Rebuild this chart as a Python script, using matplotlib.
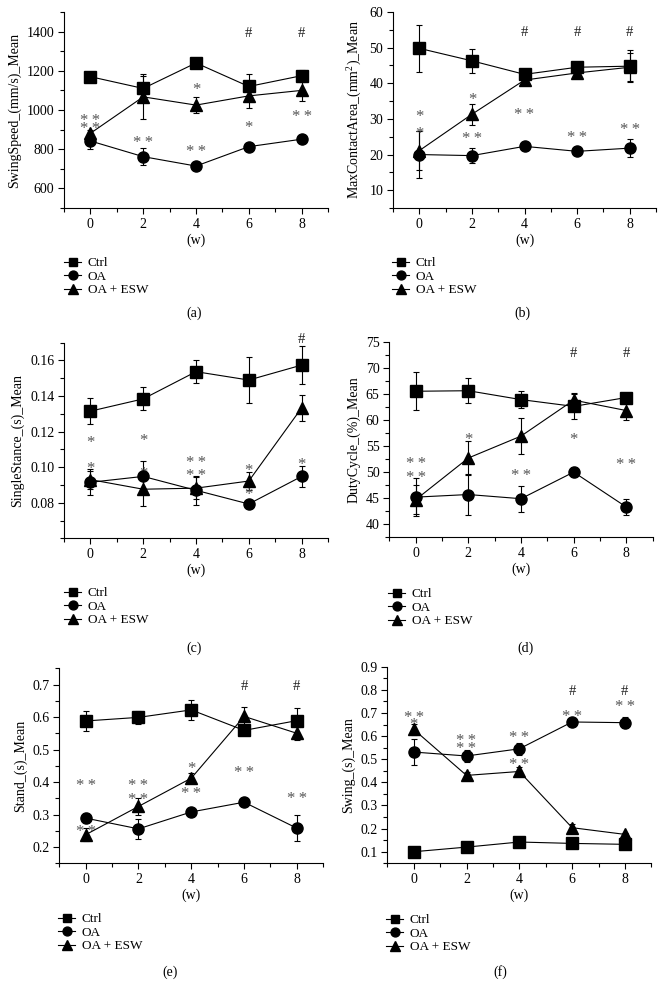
import matplotlib
matplotlib.use("Agg")
import matplotlib.pyplot as plt
from matplotlib.ticker import MultipleLocator
from matplotlib.lines import Line2D
from matplotlib.font_manager import FontProperties

plt.rcParams['font.family'] = ['Liberation Serif', 'DejaVu Serif']
plt.rcParams['font.size'] = 9
plt.rcParams['mathtext.fontset'] = 'custom'
plt.rcParams['mathtext.rm'] = 'Liberation Serif'
plt.rcParams['mathtext.it'] = 'Liberation Serif:italic'

weeks = [0, 2, 4, 6, 8]
groups = ["Ctrl", "OA", "OA + ESW"]

# (a) SwingSpeed
a_ctrl = [1170, 1110, 1240, 1120, 1175]
a_ctrl_err = [15, 65, 10, 64, 30]
a_oa = [842, 762, 714, 813, 851]
a_oa_err = [40, 45, 10, 10, 10]
a_esw = [881, 1067, 1025, 1072, 1100]
a_esw_err = [15, 115, 40, 60, 55]
a_notes = [(0, 965, "**"), (0, 927, "**"), (2, 854, "**"), (4, 1124, "*"), (4, 808, "**"),
           (6, 1400, "#"), (6, 931, "*"), (8, 1400, "#"), (8, 984, "**")]

# (b) MaxContactArea
b_ctrl = [49.8, 46.3, 42.5, 44.5, 44.8]
b_ctrl_err = [6.5, 3.4, 0.8, 0.6, 4.5]
b_oa = [20.0, 19.7, 22.3, 20.9, 21.8]
b_oa_err = [6.7, 2.1, 0.6, 0.6, 2.6]
b_esw = [21.1, 31.3, 40.9, 42.9, 44.5]
b_esw_err = [5.5, 3.0, 1.0, 0.6, 4.0]
b_notes = [(0, 31.7, "*"), (0, 27.0, "*"), (2, 36.6, "*"), (2, 25.5, "**"), (4, 54.7, "#"),
           (4, 32.4, "**"), (6, 54.7, "#"), (6, 25.8, "**"), (8, 54.7, "#"), (8, 28.2, "**")]

# (c) SingleStance
c_ctrl = [0.1315, 0.1384, 0.1537, 0.1490, 0.1574]
c_ctrl_err = [0.0075, 0.0065, 0.0065, 0.013, 0.0106]
c_oa = [0.0915, 0.0948, 0.0870, 0.0793, 0.0948]
c_oa_err = [0.0072, 0.0088, 0.008, 0.001, 0.006]
c_esw = [0.0930, 0.0876, 0.0882, 0.0922, 0.1333]
c_esw_err = [0.005, 0.0092, 0.006, 0.005, 0.0075]
c_notes = [(0, 0.116, "*"), (0, 0.1016, "*"), (2, 0.1173, "*"), (2, 0.0986, "*"),
           (4, 0.1048, "**"), (4, 0.0973, "**"), (6, 0.1001, "*"), (6, 0.087, "*"),
           (8, 0.1725, "#"), (8, 0.1038, "*")]

# (d) DutyCycle
d_ctrl = [65.5, 65.6, 63.9, 62.6, 64.3]
d_ctrl_err = [3.6, 2.4, 1.7, 2.4, 0.6]
d_oa = [45.2, 45.7, 44.9, 50.0, 43.3]
d_oa_err = [3.7, 4.0, 2.5, 1.0, 1.6]
d_esw = [44.7, 52.7, 56.9, 63.8, 61.8]
d_esw_err = [2.8, 3.3, 3.4, 1.3, 1.8]
d_notes = [(0, 52.4, "**"), (0, 49.7, "**"), (2, 57.0, "*"), (4, 50.0, "**"),
           (6, 73.1, "#"), (6, 57.0, "*"), (8, 73.1, "#"), (8, 52.1, "**")]

# (e) Stand
e_ctrl = [0.588, 0.599, 0.622, 0.559, 0.589]
e_ctrl_err = [0.03, 0.02, 0.03, 0.01, 0.04]
e_oa = [0.289, 0.256, 0.308, 0.338, 0.258]
e_oa_err = [0.015, 0.03, 0.008, 0.008, 0.04]
e_esw = [0.238, 0.325, 0.412, 0.602, 0.550]
e_esw_err = [0.02, 0.026, 0.015, 0.028, 0.02]
e_notes = [(0, 0.400, "**"), (0, 0.261, "**"), (2, 0.400, "**"), (2, 0.359, "**"),
           (4, 0.455, "*"), (4, 0.376, "**"), (6, 0.70, "#"), (6, 0.440, "**"),
           (8, 0.70, "#"), (8, 0.361, "**")]

# (f) Swing
f_ctrl = [0.100, 0.120, 0.142, 0.136, 0.132]
f_ctrl_err = [0.005, 0.008, 0.008, 0.015, 0.012]
f_oa = [0.531, 0.514, 0.545, 0.661, 0.658]
f_oa_err = [0.058, 0.025, 0.027, 0.012, 0.025]
f_esw = [0.629, 0.430, 0.447, 0.204, 0.175]
f_esw_err = [0.025, 0.015, 0.02, 0.015, 0.008]
f_notes = [(0, 0.698, "**"), (0, 0.665, "*"), (2, 0.597, "**"), (2, 0.564, "**"),
           (4, 0.610, "**"), (4, 0.495, "**"), (6, 0.80, "#"), (6, 0.70, "**"),
           (8, 0.80, "#"), (8, 0.744, "**")]

W, H = 664, 999
fig = plt.figure(figsize=(W / 100, H / 100), dpi=100)
renderer = fig.canvas.get_renderer()


def box(l, r, t, b):
    return [l / W, 1 - b / H, (r - l) / W, (b - t) / H]


panels = [
    dict(rect=box(64, 328, 12, 208), data=(a_ctrl, a_ctrl_err, a_oa, a_oa_err, a_esw, a_esw_err),
         notes=a_notes, ylim=(500, 1500), major=200, minor=100, ylabel="SwingSpeed_(mm/s)_Mean",
         fmt=lambda v: f"{v:.0f}", leg=(64, 257), tag=(194, 313), tag_s="(a)"),
    dict(rect=box(393, 656, 12, 208), data=(b_ctrl, b_ctrl_err, b_oa, b_oa_err, b_esw, b_esw_err),
         notes=b_notes, ylim=(5, 60), major=10, minor=5, ylabel="MaxContactArea_(mm$^2$)_Mean",
         fmt=lambda v: f"{v:.0f}", leg=(392, 257), tag=(522, 313), tag_s="(b)"),
    dict(rect=box(64, 328, 342.7, 538.3), data=(c_ctrl, c_ctrl_err, c_oa, c_oa_err, c_esw, c_esw_err),
         notes=c_notes, ylim=(0.06, 0.17), major=0.02, minor=0.01, ylabel="SingleStance_(s)_Mean",
         fmt=lambda v: f"{v:.2f}", leg=(64, 587), tag=(194, 648), tag_s="(c)"),
    dict(rect=box(389.3, 652.7, 341.7, 537.3), data=(d_ctrl, d_ctrl_err, d_oa, d_oa_err, d_esw, d_esw_err),
         notes=d_notes, ylim=(37.5, 75), major=5, minor=2.5, ylabel="DutyCycle_(%)_Mean",
         fmt=lambda v: f"{v:.0f}", leg=(388, 588), tag=(526, 648), tag_s="(d)"),
    dict(rect=box(59.3, 323.3, 668.3, 863.3), data=(e_ctrl, e_ctrl_err, e_oa, e_oa_err, e_esw, e_esw_err),
         notes=e_notes, ylim=(0.15, 0.75), major=0.1, minor=0.05, ylabel="Stand_(s)_Mean",
         fmt=lambda v: f"{v:.1f}", leg=(58, 913), tag=(170, 972), tag_s="(e)"),
    dict(rect=box(387.3, 651.3, 666.7, 863.3), data=(f_ctrl, f_ctrl_err, f_oa, f_oa_err, f_esw, f_esw_err),
         notes=f_notes, ylim=(0.05, 0.9), major=0.1, minor=0.05, ylabel="Swing_(s)_Mean",
         fmt=lambda v: f"{v:.1f}", leg=(386, 914), tag=(500, 972), tag_s="(f)"),
]

markers = ["s", "o", "^"]
STAR_FS = 12
HASH_FS = 10.5


def place_notes(ax, notes):
    by_x = {}
    for x, y, s in notes:
        by_x.setdefault(x, []).append((y, s))
    for x, items in by_x.items():
        items.sort(key=lambda t: -t[0])
        grps = []
        for y, s in items:
            py = ax.transData.transform((x, y))[1]
            if grps and s != "#" and grps[-1][-1][1] != "#" and grps[-1][-1][0] - py < 16:
                grps[-1].append((py, s))
            else:
                grps.append([(py, s)])
        for g in grps:
            is_hash = g[0][1] == "#"
            fs = HASH_FS if is_hash else STAR_FS
            fp = FontProperties(family=['Liberation Serif'], size=fs)
            _, h, d = renderer.get_text_width_height_descent("lp", fp, ismath=False)
            fs_px = fs * 100 / 72
            sc = (0.34 if is_hash else 0.50) * fs_px
            ls = 1.0
            if len(g) == 2:
                gap = g[0][0] - g[1][0]
                ls = max(0.0, (gap - d) / (h - d))
            mean_py = sum(p for p, _ in g) / len(g)
            off = sc - (h - 2 * d) / 2
            txt = "\n".join(s.replace("**", "*\u2009*") for _, s in g)
            ydata = ax.transData.inverted().transform((0, mean_py))[1]
            ax.annotate(txt, (x, ydata), xytext=(0, -off), textcoords="offset pixels",
                        ha="center", va="center", multialignment="center", linespacing=ls,
                        fontsize=fs, color="#222222" if is_hash else "#555555",
                        annotation_clip=False)


for p in panels:
    ax = fig.add_axes(p["rect"])
    ctrl, ctrl_e, oa, oa_e, esw, esw_e = p["data"]
    handles = []
    for vals, errs, mk, lab in zip((ctrl, oa, esw), (ctrl_e, oa_e, esw_e), markers, groups):
        ms = 8.5 if mk == "^" else 8
        ax.errorbar(weeks, vals, yerr=errs, color="black", marker=mk, markersize=ms,
                    linewidth=0.8, elinewidth=0.8, capsize=2.5, capthick=0.8,
                    clip_on=False, zorder=3)
        handles.append(Line2D([], [], color="black", marker=mk, markersize=ms * 0.8,
                              linewidth=0.8, label=lab))
    ax.set_xlim(-1, 9)
    ax.set_ylim(*p["ylim"])
    ax.set_xticks(weeks)
    ax.set_xticks([-1, 1, 3, 5, 7, 9], minor=True)
    ax.yaxis.set_major_locator(MultipleLocator(p["major"]))
    ax.yaxis.set_minor_locator(MultipleLocator(p["minor"]))
    ticks = [t for t in ax.get_yticks() if p["ylim"][0] + 1e-9 < t <= p["ylim"][1] + 1e-9]
    ax.set_yticks(ticks)
    ax.set_yticklabels([p["fmt"](t) for t in ticks])
    ax.set_ylim(*p["ylim"])
    ax.spines["top"].set_visible(False)
    ax.spines["right"].set_visible(False)
    ax.tick_params(which="major", direction="out", length=4, width=0.8, labelsize=10, pad=3)
    ax.tick_params(which="minor", direction="out", length=3, width=0.8)
    ax.set_xlabel("(w)", fontsize=10, labelpad=2)
    ax.set_ylabel(p["ylabel"], fontsize=10, labelpad=4)
    place_notes(ax, p["notes"])
    lx, ly = p["leg"]
    fig.legend(handles=handles, loc="upper left", bbox_to_anchor=(lx / W, 1 - ly / H),
               frameon=False, fontsize=9.5, handlelength=1.3, handletextpad=0.5,
               labelspacing=0.1, borderpad=0, borderaxespad=0)
    tx, ty = p["tag"]
    fig.text(tx / W, 1 - ty / H, p["tag_s"], ha="center", va="center", fontsize=10)

fig.savefig("out.png", dpi=100)
